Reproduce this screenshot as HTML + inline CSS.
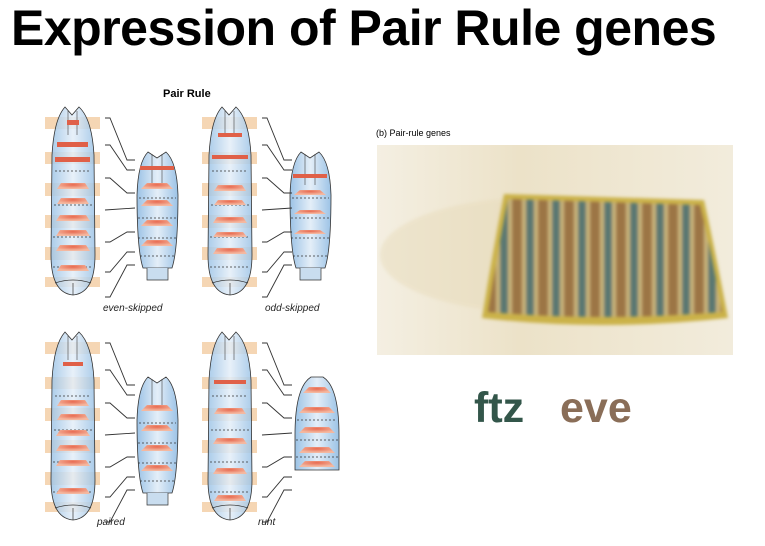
<!DOCTYPE html>
<html><head><meta charset="utf-8"><style>
body{margin:0;width:765px;height:546px;background:#fff;overflow:hidden;position:relative;font-family:"Liberation Sans",sans-serif}
.t{position:absolute;left:11px;top:-1px;font-size:50px;font-weight:bold;color:#000;letter-spacing:-0.5px;white-space:nowrap}
.l{position:absolute;font-size:10px;font-style:italic;color:#222}
</style></head><body>
<div class="t">Expression of Pair Rule genes</div>
<svg width="765" height="546" style="position:absolute;left:0;top:0">
<defs>
<linearGradient id="bl" x1="0" x2="1"><stop offset="0" stop-color="#9cc3e6"/><stop offset="0.5" stop-color="#e4eef8"/><stop offset="1" stop-color="#9cc3e6"/></linearGradient>
<radialGradient id="rd" cx="0.5" cy="0.3" r="0.6"><stop offset="0" stop-color="#e86a50"/><stop offset="1" stop-color="#f4b8a0"/></radialGradient>
<g id="big">
 <rect x="0" y="12" width="55" height="12" fill="#f5d6b4"/>
 <rect x="0" y="47" width="55" height="12" fill="#f5d6b4"/>
 <rect x="0" y="78" width="55" height="13" fill="#f5d6b4"/>
 <rect x="0" y="110" width="55" height="13" fill="#f5d6b4"/>
 <rect x="0" y="142" width="55" height="13" fill="#f5d6b4"/>
 <rect x="0" y="172" width="55" height="10" fill="#f5d6b4"/>
 <path d="M20,2 L27,10 L34,2 Q47,14 49,50 L50,150 Q50,188 28,190 Q6,188 6,150 L7,50 Q9,14 20,2Z" fill="url(#bl)" fill-opacity="0.85" stroke="#333" stroke-width="0.8"/>
 <path d="M23,6 L23,30 M32,6 L32,30" stroke="#444" stroke-width="0.6"/>
 <path d="M10,178 Q28,172 46,178 M28,178 L28,190" stroke="#333" stroke-width="0.7" fill="none"/>
 <g stroke="#333" stroke-width="0.8" stroke-dasharray="2,2">
  <line x1="9" y1="100" x2="47" y2="100"/><line x1="8" y1="132" x2="48" y2="132"/><line x1="8" y1="162" x2="48" y2="162"/><line x1="10" y1="66" x2="46" y2="66"/>
 </g>
</g>
<g id="sm">
 <path d="M13,2 L22,8 L31,2 Q42,12 43,45 Q43,100 37,118 L8,118 Q2,100 2,45 Q3,12 13,2Z" fill="url(#bl)" stroke="#333" stroke-width="0.8"/>
 <path d="M17,4 L17,35 M27,4 L27,35" stroke="#444" stroke-width="0.6"/>
 <path d="M12,118 L12,130 L33,130 L33,118" stroke="#333" stroke-width="0.7" fill="#c9ddef"/>
 <g stroke="#333" stroke-width="0.8" stroke-dasharray="2,2">
  <line x1="4" y1="48" x2="41" y2="48"/><line x1="3" y1="68" x2="42" y2="68"/><line x1="3" y1="88" x2="42" y2="88"/><line x1="5" y1="106" x2="40" y2="106"/>
 </g>
</g>
<g id="lines" stroke="#333" stroke-width="0.9" fill="none">
 <polyline points="60,13 65,13 82,55 90,55"/>
 <polyline points="60,40 65,40 82,65 90,65"/>
 <polyline points="60,73 65,73 82,88 90,88"/>
 <polyline points="60,105 90,103"/>
 <polyline points="60,137 65,137 82,127 90,127"/>
 <polyline points="60,167 65,167 82,147 90,147"/>
 <polyline points="60,192 65,192 82,160 90,160"/>
</g>
</defs>
<text x="163" y="97" font-size="11" font-weight="bold" font-family="Liberation Sans">Pair Rule</text>
<use href="#big" x="45" y="105"/>
<g transform="translate(45,105)">
 <rect x="22" y="15" width="12" height="5" fill="#e06048"/>
 <rect x="12" y="37" width="31" height="5" fill="#e06048"/>
 <rect x="10" y="52" width="35" height="5" fill="#e06048"/>
 <path d="M16,78 L40,78 L44,84 L12,84Z" fill="url(#rd)"/>
 <path d="M15,110 L41,110 L45,116 L11,116Z" fill="url(#rd)"/>
 <path d="M15,140 L41,140 L45,146 L11,146Z" fill="url(#rd)"/>
 <path d="M16,93 L40,93 L44,99 L12,99Z" fill="url(#rd)"/>
 <path d="M15,125 L41,125 L45,131 L11,131Z" fill="url(#rd)"/>
 <path d="M16,160 L40,160 L44,166 L12,166Z" fill="url(#rd)"/>
</g>
<use href="#sm" x="135" y="150"/>
<g transform="translate(135,150)">
 <rect x="5" y="16" width="34" height="4" fill="#e06048"/>
 <path d="M12,33 L32,33 L38,39 L6,39Z" fill="url(#rd)"/>
 <path d="M12,50 L32,50 L38,56 L6,56Z" fill="url(#rd)"/>
 <path d="M12,70 L32,70 L38,76 L6,76Z" fill="url(#rd)"/>
 <path d="M12,90 L32,90 L38,96 L6,96Z" fill="url(#rd)"/>
</g>
<use href="#lines" x="45" y="105"/>
<use href="#big" x="202" y="105"/>
<g transform="translate(202,105)">
 <rect x="16" y="28" width="24" height="4" fill="#e06048"/>
 <rect x="10" y="50" width="36" height="4" fill="#e06048"/>
 <path d="M16,80 L40,80 L44,86 L12,86Z" fill="url(#rd)"/>
 <path d="M15,112 L41,112 L45,118 L11,118Z" fill="url(#rd)"/>
 <path d="M15,143 L41,143 L45,149 L11,149Z" fill="url(#rd)"/>
 <path d="M16,95 L40,95 L44,100 L12,100Z" fill="url(#rd)"/>
 <path d="M15,127 L41,127 L45,132 L11,132Z" fill="url(#rd)"/>
</g>
<use href="#sm" x="288" y="150"/>
<g transform="translate(288,150)">
 <rect x="5" y="24" width="34" height="4" fill="#e06048"/>
 <path d="M12,40 L32,40 L38,45 L6,45Z" fill="url(#rd)"/>
 <path d="M12,60 L32,60 L38,64 L6,64Z" fill="url(#rd)"/>
 <path d="M12,80 L32,80 L38,84 L6,84Z" fill="url(#rd)"/>
</g>
<use href="#lines" x="202" y="105"/>
<use href="#big" x="45" y="330"/>
<g transform="translate(45,330)">
 <rect x="18" y="32" width="20" height="4" fill="#e06048"/>
 <path d="M16,70 L40,70 L44,76 L12,76Z" fill="url(#rd)"/>
 <path d="M15,100 L41,100 L45,106 L11,106Z" fill="url(#rd)"/>
 <path d="M15,130 L41,130 L45,136 L11,136Z" fill="url(#rd)"/>
 <path d="M15,158 L41,158 L45,164 L11,164Z" fill="url(#rd)"/>
 <path d="M16,84 L40,84 L44,90 L12,90Z" fill="url(#rd)"/>
 <path d="M15,115 L41,115 L45,121 L11,121Z" fill="url(#rd)"/>
</g>
<use href="#sm" x="135" y="375"/>
<g transform="translate(135,375)">
 <path d="M12,30 L32,30 L38,36 L6,36Z" fill="url(#rd)"/>
 <path d="M12,50 L32,50 L38,56 L6,56Z" fill="url(#rd)"/>
 <path d="M12,70 L32,70 L38,76 L6,76Z" fill="url(#rd)"/>
 <path d="M12,90 L32,90 L38,96 L6,96Z" fill="url(#rd)"/>
</g>
<use href="#lines" x="45" y="330"/>
<use href="#big" x="202" y="330"/>
<g transform="translate(202,330)">
 <rect x="12" y="50" width="32" height="4" fill="#e06048"/>
 <path d="M16,78 L40,78 L44,84 L12,84Z" fill="url(#rd)"/>
 <path d="M15,108 L41,108 L45,114 L11,114Z" fill="url(#rd)"/>
 <path d="M15,138 L41,138 L45,144 L11,144Z" fill="url(#rd)"/>
 <path d="M16,165 L40,165 L44,171 L12,171Z" fill="url(#rd)"/>
</g>
<g transform="translate(295,375)">
 <path d="M16,2 L28,2 Q44,12 44,60 L44,95 L0,95 L0,60 Q0,12 16,2Z" fill="url(#bl)" stroke="#333" stroke-width="0.8"/>
 <path d="M14,12 L30,12 L36,18 L8,18Z" fill="url(#rd)"/>
 <path d="M10,32 L34,32 L40,38 L4,38Z" fill="url(#rd)"/>
 <path d="M10,52 L34,52 L40,58 L4,58Z" fill="url(#rd)"/>
 <path d="M10,72 L34,72 L40,78 L4,78Z" fill="url(#rd)"/>
 <path d="M10,86 L34,86 L40,92 L4,92Z" fill="url(#rd)"/>
 <g stroke="#333" stroke-width="0.8" stroke-dasharray="2,2"><line x1="2" y1="45" x2="42" y2="45"/><line x1="1" y1="65" x2="43" y2="65"/><line x1="1" y1="82" x2="43" y2="82"/></g>
</g>
<use href="#lines" x="202" y="330"/>
<defs>
<linearGradient id="bg" x1="0" x2="1"><stop offset="0" stop-color="#f4efe2"/><stop offset="0.4" stop-color="#ece2c8"/><stop offset="1" stop-color="#f2ecdc"/></linearGradient>
<pattern id="st" width="26" height="20" patternUnits="userSpaceOnUse" x="500"><rect width="26" height="20" fill="#c9b47a"/><rect width="8" height="20" fill="#5a7872"/><rect x="12" width="10" height="20" fill="#9c7444"/></pattern>
<filter id="bf"><feGaussianBlur stdDeviation="1.5"/></filter>
</defs>
<rect x="377" y="145" width="356" height="210" fill="url(#bg)"/>
<ellipse cx="540" cy="255" rx="160" ry="58" fill="#e8dcbc" opacity="0.5" filter="url(#bf)"/>
<path d="M504,194 L704,200 Q716,255 728,318 Q600,332 482,318 Q492,255 504,194Z" fill="#cbb24a" filter="url(#bf)"/>
<path d="M508,199 L700,205 Q712,255 722,312 Q600,322 488,312 Q497,255 508,199Z" fill="url(#st)" filter="url(#bf)"/>
<text x="376" y="136" font-size="9" font-family="Liberation Sans">(b) Pair-rule genes</text>
<text x="474" y="422" font-size="43" font-weight="bold" fill="#33564a" font-family="Liberation Sans">ftz</text>
<text x="560" y="422" font-size="43" font-weight="bold" fill="#8a6e58" font-family="Liberation Sans">eve</text>
</svg>
<div class="l" style="left:103px;top:303px">even-skipped</div>
<div class="l" style="left:265px;top:303px">odd-skipped</div>
<div class="l" style="left:97px;top:517px">paired</div>
<div class="l" style="left:258px;top:517px">runt</div>
</body></html>
